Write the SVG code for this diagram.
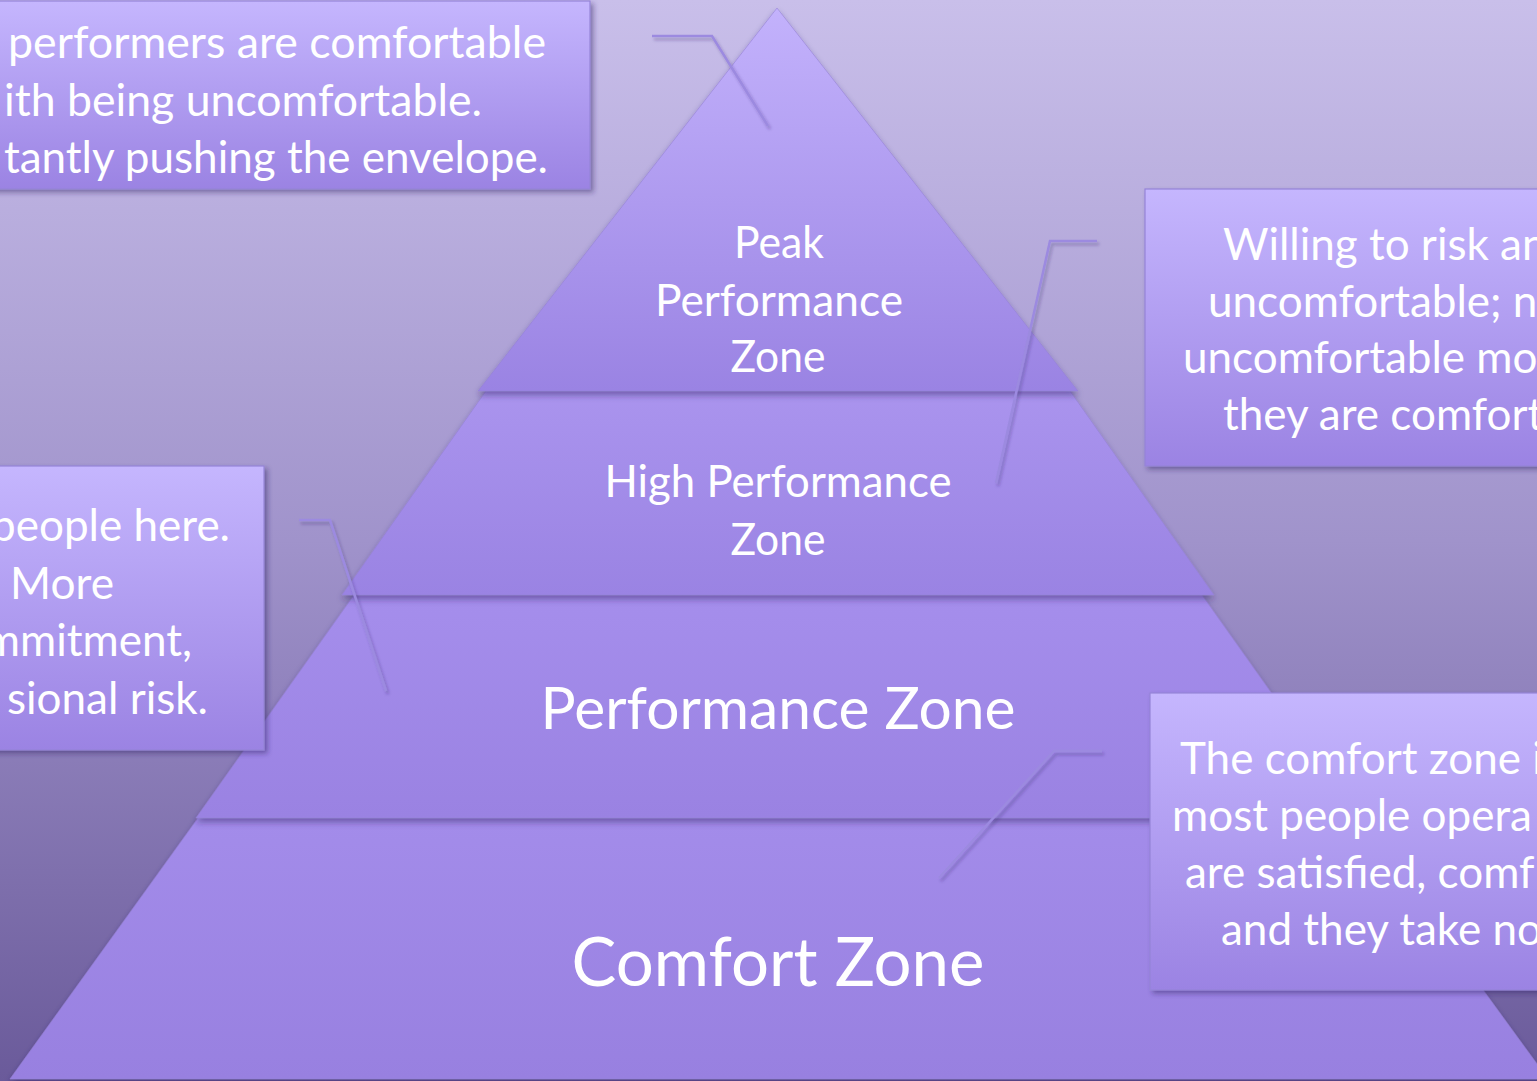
<svg xmlns="http://www.w3.org/2000/svg" width="1537" height="1081" viewBox="0 0 1537 1081">
  <defs>
    <linearGradient id="bg" x1="0" y1="0" x2="0" y2="1">
      <stop offset="0" stop-color="#c9bfea"/>
      <stop offset="0.5" stop-color="#a093cb"/>
      <stop offset="1" stop-color="#6a5a9a"/>
    </linearGradient>
    <linearGradient id="g1" x1="0" y1="0" x2="0" y2="1">
      <stop offset="0" stop-color="#c3b2fc"/>
      <stop offset="1" stop-color="#9a83e3"/>
    </linearGradient>
    <linearGradient id="g2" x1="0" y1="0" x2="0" y2="1">
      <stop offset="0" stop-color="#aa94ee"/>
      <stop offset="1" stop-color="#9a83e3"/>
    </linearGradient>
    <linearGradient id="g3" x1="0" y1="0" x2="0" y2="1">
      <stop offset="0" stop-color="#a58eec"/>
      <stop offset="1" stop-color="#9a82e2"/>
    </linearGradient>
    <linearGradient id="g4" x1="0" y1="0" x2="0" y2="1">
      <stop offset="0" stop-color="#a38cea"/>
      <stop offset="1" stop-color="#9880e0"/>
    </linearGradient>
    <linearGradient id="gbox" x1="0" y1="0" x2="0" y2="1">
      <stop offset="0" stop-color="#c5b6fe"/>
      <stop offset="1" stop-color="#9b83e3"/>
    </linearGradient>
    <filter id="layerShadow" x="-10%" y="-10%" width="120%" height="120%">
      <feGaussianBlur in="SourceAlpha" stdDeviation="3"/>
      <feOffset dx="0" dy="4" result="b"/>
      <feFlood flood-color="#2e2260" flood-opacity="0.45"/>
      <feComposite in2="b" operator="in"/>
      <feMerge><feMergeNode/><feMergeNode in="SourceGraphic"/></feMerge>
    </filter>
    <filter id="boxShadow" x="-10%" y="-10%" width="120%" height="120%">
      <feGaussianBlur in="SourceAlpha" stdDeviation="2.5"/>
      <feOffset dx="3" dy="3" result="b"/>
      <feFlood flood-color="#2e2260" flood-opacity="0.45"/>
      <feComposite in2="b" operator="in"/>
      <feMerge><feMergeNode/><feMergeNode in="SourceGraphic"/></feMerge>
    </filter>
    <filter id="lineShadow" x="-20%" y="-20%" width="140%" height="140%">
      <feGaussianBlur in="SourceAlpha" stdDeviation="1.5"/>
      <feOffset dx="2" dy="3" result="b"/>
      <feFlood flood-color="#2e2260" flood-opacity="0.3"/>
      <feComposite in2="b" operator="in"/>
      <feMerge><feMergeNode/><feMergeNode in="SourceGraphic"/></feMerge>
    </filter>
  </defs>
  <style>
    .layer { stroke: #9482d6; stroke-width: 1; stroke-opacity: 0.6; filter: url(#layerShadow); }
    .box { fill: url(#gbox); stroke: #9584d8; stroke-width: 1.2; filter: url(#boxShadow); }
    .lbl { font-family: Lato, "Open Sans", sans-serif; fill: #ffffff; text-anchor: middle; font-size: 44px; }
    .big { font-size: 58px; }
    .huge { font-size: 67px; }
    .txt { font-family: Lato, "Open Sans", sans-serif; fill: #ffffff; font-size: 44px; }
    .end { text-anchor: end; }
    .conn { fill: none; stroke: #9c8ae0; stroke-width: 2.5; stroke-linejoin: miter; filter: url(#lineShadow); }
  </style>

  <!-- backdrop -->
  <rect x="0" y="0" width="1537" height="1081" fill="url(#bg)"/>

  <!-- pyramid levels, bottom level first so each upper level casts onto the one below -->
  <g id="comfort-zone">
    <polygon class="layer" fill="url(#g4)" points="198,818 1358,818 1548,1079 10,1079"/>
    <text class="lbl huge" x="778" y="986" textLength="413" lengthAdjust="spacingAndGlyphs">Comfort Zone</text>
  </g>
  <g id="performance-zone">
    <polygon class="layer" fill="url(#g3)" points="354,595 1202,595 1360,818 196,818"/>
    <text class="lbl big" x="778" y="729" textLength="475" lengthAdjust="spacingAndGlyphs">Performance Zone</text>
  </g>
  <g id="high-performance-zone">
    <polygon class="layer" fill="url(#g2)" points="486,391 1070,391 1214,595 342,595"/>
    <text class="lbl" x="778" y="497" textLength="347" lengthAdjust="spacingAndGlyphs">High Performance</text>
    <text class="lbl" x="778" y="555" textLength="95" lengthAdjust="spacingAndGlyphs">Zone</text>
  </g>
  <g id="peak-performance-zone">
    <polygon class="layer" fill="url(#g1)" points="777,8 1078,391 478,391"/>
    <text class="lbl" x="779" y="258" textLength="90" lengthAdjust="spacingAndGlyphs">Peak</text>
    <text class="lbl" x="779" y="316" textLength="248" lengthAdjust="spacingAndGlyphs">Performance</text>
    <text class="lbl" x="778" y="372" textLength="95" lengthAdjust="spacingAndGlyphs">Zone</text>
  </g>

  <!-- callout leader lines -->
  <g id="connectors">
    <polyline class="conn" points="652,36 712,36 768,126"/>
    <polyline class="conn" points="1097,241 1050,241 996,483"/>
    <polyline class="conn" points="299,520 330,520 386,691"/>
    <polyline class="conn" points="1102,751 1054,751 939,878"/>
  </g>

  <!-- callout boxes -->
  <g id="note-peak">
    <rect class="box" x="-20" y="1" width="610" height="188"/>
    <text class="txt end" x="546" y="58" textLength="538" lengthAdjust="spacingAndGlyphs">performers are comfortable</text>
    <text class="txt end" x="482" y="116" textLength="478" lengthAdjust="spacingAndGlyphs">ith being uncomfortable.</text>
    <text class="txt end" x="548" y="173">tantly pushing the envelope.</text>
  </g>
  <g id="note-high">
    <rect class="box" x="1145" y="189" width="420" height="277"/>
    <text class="txt" x="1223" y="260">Willing to risk an</text>
    <text class="txt" x="1208" y="317">uncomfortable; n</text>
    <text class="txt" x="1183" y="373">uncomfortable mo</text>
    <text class="txt" x="1223" y="430">they are comfort</text>
  </g>
  <g id="note-performance">
    <rect class="box" x="-20" y="466" width="284" height="284"/>
    <text class="txt end" x="230" y="541">people here.</text>
    <text class="txt end" x="114" y="599" textLength="104" lengthAdjust="spacingAndGlyphs">More</text>
    <text class="txt end" x="192" y="656">mmitment,</text>
    <text class="txt end" x="208" y="714">sional risk.</text>
  </g>
  <g id="note-comfort">
    <rect class="box" x="1150" y="693" width="420" height="297"/>
    <text class="txt" x="1180" y="774">The comfort zone i</text>
    <text class="txt" x="1172" y="831">most people opera</text>
    <text class="txt" x="1185" y="888">are satisfied, comf</text>
    <text class="txt" x="1221" y="945">and they take no</text>
  </g>
</svg>
